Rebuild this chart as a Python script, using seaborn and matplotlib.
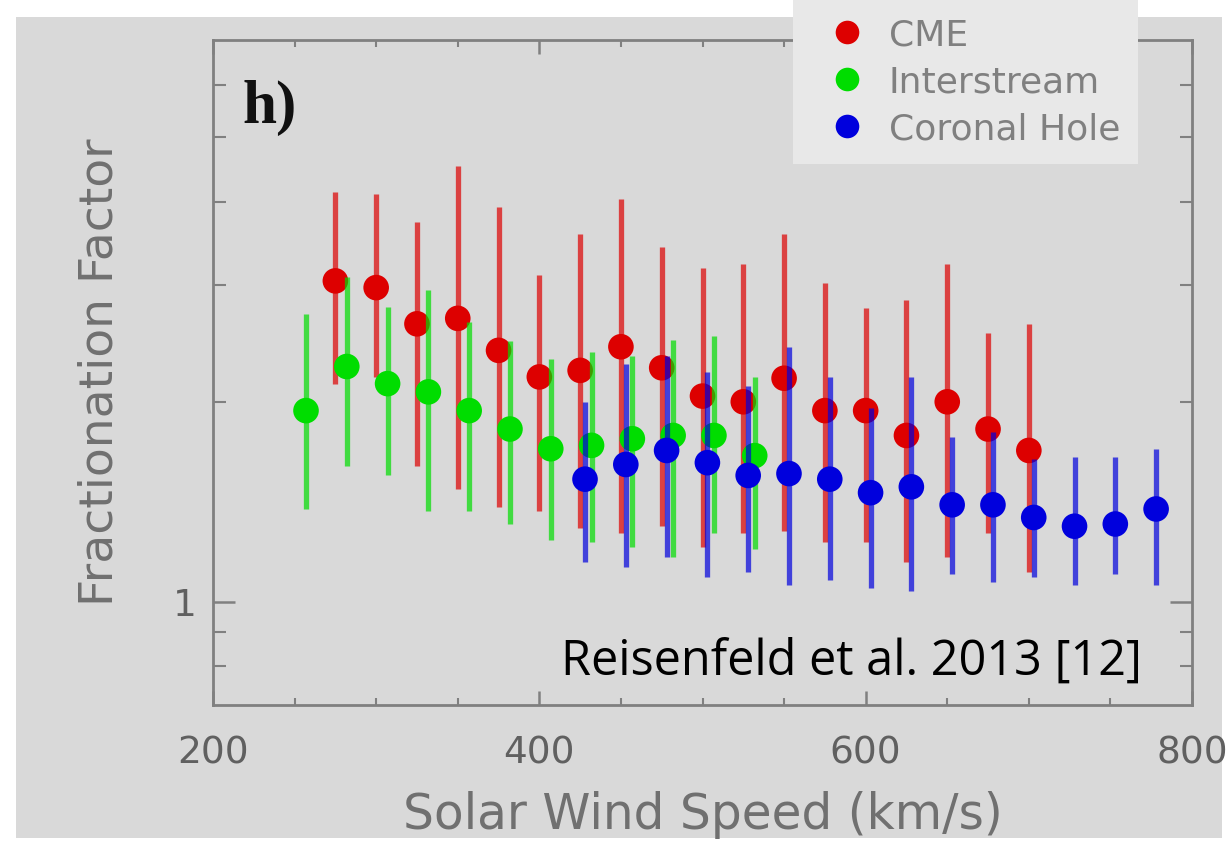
import pandas as pd
import seaborn as sns
import matplotlib.pyplot as plt
from matplotlib.patches import Rectangle
from matplotlib.lines import Line2D

# Fractionation factor vs solar wind speed
cme_speed = [275, 300, 325, 350, 375, 400, 425, 450, 475, 500, 525, 550, 575, 600, 625, 650, 675, 700]
cme_factor = [3.04, 2.97, 2.62, 2.67, 2.39, 2.18, 2.23, 2.42, 2.25, 2.04, 2.00, 2.17, 1.94, 1.94, 1.78, 2.00, 1.82, 1.69]
cme_high = [4.14, 4.10, 3.73, 4.52, 3.93, 3.10, 3.58, 4.03, 3.42, 3.18, 3.22, 3.57, 3.02, 2.77, 2.85, 3.22, 2.54, 2.62]
cme_low = [2.13, 2.18, 1.60, 1.48, 1.39, 1.37, 1.29, 1.27, 1.30, 1.21, 1.27, 1.28, 1.23, 1.23, 1.15, 1.17, 1.27, 1.11]

is_speed = [257, 282, 307, 332, 357, 382, 407, 432, 457, 482, 507, 532]
is_factor = [1.94, 2.26, 2.13, 2.07, 1.94, 1.82, 1.70, 1.72, 1.76, 1.78, 1.78, 1.66]
is_high = [2.71, 3.08, 2.78, 2.95, 2.64, 2.47, 2.32, 2.38, 2.34, 2.48, 2.51, 2.18]
is_low = [1.38, 1.60, 1.55, 1.37, 1.37, 1.31, 1.24, 1.23, 1.21, 1.17, 1.27, 1.20]

ch_speed = [428, 453, 478, 503, 528, 553, 578, 603, 628, 653, 678, 703, 728, 753, 778]
ch_factor = [1.53, 1.61, 1.69, 1.62, 1.55, 1.56, 1.53, 1.46, 1.49, 1.40, 1.40, 1.34, 1.30, 1.31, 1.38]
ch_high = [2.00, 2.28, 2.34, 2.22, 2.11, 2.42, 2.18, 1.96, 2.18, 1.77, 1.80, 1.64, 1.65, 1.65, 1.70]
ch_low = [1.15, 1.13, 1.17, 1.09, 1.11, 1.06, 1.08, 1.05, 1.04, 1.10, 1.07, 1.09, 1.06, 1.10, 1.06]

wind_types = ['CME', 'Interstream', 'Coronal Hole']
colors = {'CME': '#dd0000', 'Interstream': '#00dd00', 'Coronal Hole': '#0000dd'}

frames = []
for name, s, f, lo, hi in [('CME', cme_speed, cme_factor, cme_low, cme_high),
                           ('Interstream', is_speed, is_factor, is_low, is_high),
                           ('Coronal Hole', ch_speed, ch_factor, ch_low, ch_high)]:
    frames.append(pd.DataFrame({'speed': s, 'factor': f, 'low': lo, 'high': hi, 'type': name}))
df = pd.concat(frames, ignore_index=True)

sns.set_style('white')
plt.rcParams['font.family'] = ['DejaVu Sans']

fig = plt.figure(figsize=(12.32, 8.58), dpi=100)
fig.patch.set_facecolor('white')
# grey panel behind the plot
panel = Rectangle((16 / 1232, 1 - 838 / 858), 1206 / 1232, 821 / 858,
                  transform=fig.transFigure, facecolor='#d9d9d9', edgecolor='none')
panel.set_zorder(-10)
fig.add_artist(panel)

ax = fig.add_axes([213 / 1232, 1 - 705 / 858, 979 / 1232, 665 / 858])
ax.set_zorder(1)
ax.set_facecolor('#d9d9d9')

for i, name in enumerate(wind_types):
    sub = df[df['type'] == name]
    ax.vlines(sub['speed'], sub['low'], sub['high'], color=colors[name],
              alpha=0.7, linewidth=3.8, zorder=2 + 2 * i)
    sns.scatterplot(data=sub, x='speed', y='factor', color=colors[name], s=340,
                    edgecolor='none', ax=ax, zorder=3 + 2 * i, legend=False)

ax.set_yscale('log')
ax.set_xlim(200, 800)
ax.set_ylim(0.7, 7)
ax.set_xticks([200, 400, 600, 800])
ax.set_xticks(range(250, 800, 50), minor=True)
ax.set_yticks([1])
ax.set_yticklabels(['1'])
ax.set_yticks([0.8, 0.9, 2, 3, 4, 5, 6], minor=True)
ax.yaxis.set_minor_formatter(plt.NullFormatter())

ax.tick_params(axis='both', which='both', direction='in', color='#808080',
               top=True, right=True, bottom=True, left=True,
               labelcolor='#606060', labelsize=27)
ax.tick_params(axis='x', which='major', length=10, width=1.8, pad=22)
ax.tick_params(axis='x', which='minor', length=5, width=1.5)
ax.tick_params(axis='y', which='major', length=16, width=1.8, pad=12)
ax.tick_params(axis='y', which='minor', length=9, width=1.5)
for sp in ax.spines.values():
    sp.set_color('#808080')
    sp.set_linewidth(2)
    sp.set_visible(True)

ax.set_xlabel('Solar Wind Speed (km/s)', fontsize=35, color='#707070', labelpad=14)
ax.set_ylabel('Fractionation Factor', fontsize=34, color='#707070', labelpad=36)

ax.text(0.03, 0.94, 'h)', transform=ax.transAxes, fontsize=44, fontweight='bold',
        family=['Liberation Serif', 'DejaVu Serif'], color='#111111', va='top', ha='left')
ax.text(0.949, 0.045, 'Reisenfeld et al. 2013 [12]', transform=ax.transAxes, fontsize=35,
        family=['Open Sans', 'DejaVu Sans'], color='black', ha='right', va='baseline')

handles = [Line2D([], [], marker='o', linestyle='none', markersize=17,
                  markerfacecolor=colors[n], markeredgecolor='none') for n in wind_types]
leg = fig.legend(handles, wind_types, loc='upper left',
                 bbox_to_anchor=(793 / 1232, 1.0), frameon=True, fancybox=False,
                 borderpad=0.5, labelspacing=0.36, handletextpad=0.15,
                 handlelength=2.0, fontsize=26, borderaxespad=0)
leg.set_zorder(20)
leg.get_frame().set_facecolor('#e8e8e8')
leg.get_frame().set_edgecolor('none')
leg.get_frame().set_alpha(1)
for t in leg.get_texts():
    t.set_color('#808080')

fig.savefig('out.png', dpi=100)
